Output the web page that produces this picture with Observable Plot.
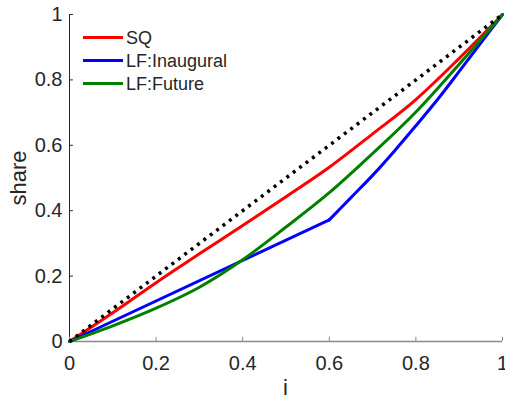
<!DOCTYPE html>
<html>
<head>
<meta charset="utf-8">
<script src="https://cdn.jsdelivr.net/npm/d3@7"></script>
<script src="https://cdn.jsdelivr.net/npm/@observablehq/plot@0.6"></script>
<style>
  html, body { margin: 0; padding: 0; background: #fff; }
  #chart { position: relative; width: 505px; height: 397px; }
  svg { display: block; }
</style>
</head>
<body>
<div id="chart"></div>
<script>
// ---- data ----
const seriesNames = ["SQ", "LF:Inaugural", "LF:Future"];
const seriesColors = ["#ff0000", "#0000ff", "#008000"];
const sqX = [0, 0.1, 0.2, 0.3, 0.4, 0.5, 0.6, 0.7, 0.8, 0.9, 1];
const sqY = [0, 0.088, 0.18, 0.268, 0.355, 0.443, 0.533, 0.635, 0.74, 0.866, 1];
const lfInaugX = [0, 0.6, 0.65, 0.7, 0.75, 0.8, 0.85, 0.9, 0.95, 1];
const lfInaugY = [0, 0.372, 0.44, 0.508, 0.582, 0.66, 0.74, 0.826, 0.913, 1];
const lfFutureX = [0, 0.1, 0.2, 0.3, 0.4, 0.5, 0.6, 0.7, 0.8, 0.9, 1];
const lfFutureY = [0, 0.048, 0.102, 0.166, 0.25, 0.35, 0.455, 0.575, 0.702, 0.848, 1];
const equalityX = [0, 1];
const equalityY = [0, 1];
const xTicks = [0, 0.2, 0.4, 0.6, 0.8, 1];
const yTicks = [0, 0.2, 0.4, 0.6, 0.8, 1];
const xLabel = "i";
const yLabel = "share";

const toRows = (xs, ys) => xs.map((x, i) => ({x, y: ys[i]}));
const sq = toRows(sqX, sqY);
const inaug = toRows(lfInaugX, lfInaugY);
const future = toRows(lfFutureX, lfFutureY);
const equality = toRows(equalityX, equalityY);
const kinkX = lfInaugX[1];

const font = "'Liberation Sans', Arial, Helvetica, sans-serif";
const textColor = "#262626";
const fsTick = 20, fsLegend = 18, fsLabel = 22;

const plot = Plot.plot({
  width: 505,
  height: 397,
  marginLeft: 69,
  marginRight: 3,
  marginTop: 14,
  marginBottom: 56,
  style: { fontFamily: font, fontSize: fsTick + "px", color: textColor, background: "#fff" },
  x: { domain: [0, 1] },
  y: { domain: [0, 1] },
  marks: [
    Plot.ruleY([0], { stroke: "#8a8a8a", strokeWidth: 1.3 }),
    Plot.ruleX([0], { stroke: "#262626", strokeWidth: 1 }),
    Plot.ruleX(xTicks, { x: d => d, y1: 0, y2: 0.013, stroke: "#8a8a8a", strokeWidth: 1 }),
    Plot.ruleY(yTicks, { y: d => d, x1: 0, x2: 0.009, stroke: "#262626", strokeWidth: 1 }),
    Plot.axisX(xTicks, { tickSize: 0, tickPadding: 14, tickFormat: d => String(d), fontSize: fsTick, fill: textColor, label: null }),
    Plot.axisY(yTicks, { tickSize: 0, tickPadding: 7, tickFormat: d => String(d), fontSize: fsTick, fill: textColor, label: null }),
    Plot.line(sq, { x: "x", y: "y", stroke: seriesColors[0], strokeWidth: 3, curve: "monotone-x" }),
    Plot.line(inaug.filter(d => d.x <= kinkX), { x: "x", y: "y", stroke: seriesColors[1], strokeWidth: 3 }),
    Plot.line(inaug.filter(d => d.x >= kinkX), { x: "x", y: "y", stroke: seriesColors[1], strokeWidth: 3, curve: "monotone-x" }),
    Plot.line(future, { x: "x", y: "y", stroke: seriesColors[2], strokeWidth: 3, curve: "monotone-x" }),
    Plot.line(equality, { x: "x", y: "y", stroke: "#000", strokeWidth: 3.5, strokeDasharray: "3,5", strokeLinecap: "butt" })
  ]
});

document.getElementById("chart").appendChild(plot);

const svg = d3.select(plot);
svg.append("text")
  .attr("transform", "translate(26,178) rotate(-90)")
  .attr("text-anchor", "middle")
  .attr("font-family", font).attr("font-size", fsLabel).attr("fill", textColor)
  .text(yLabel);
svg.append("text")
  .attr("x", 285.5).attr("y", 395)
  .attr("text-anchor", "middle")
  .attr("font-family", font).attr("font-size", fsLabel).attr("fill", textColor)
  .text(xLabel);

const leg = svg.append("g");
seriesNames.forEach((name, i) => {
  const yy = 37.5 + i * 23;
  leg.append("line")
    .attr("x1", 83).attr("x2", 123).attr("y1", yy).attr("y2", yy)
    .attr("stroke", seriesColors[i]).attr("stroke-width", 3);
  leg.append("text")
    .attr("x", 126).attr("y", yy).attr("dy", "0.36em")
    .attr("text-anchor", "start")
    .attr("font-family", font).attr("font-size", fsLegend).attr("fill", textColor)
    .text(name);
});
</script>
</body>
</html>
